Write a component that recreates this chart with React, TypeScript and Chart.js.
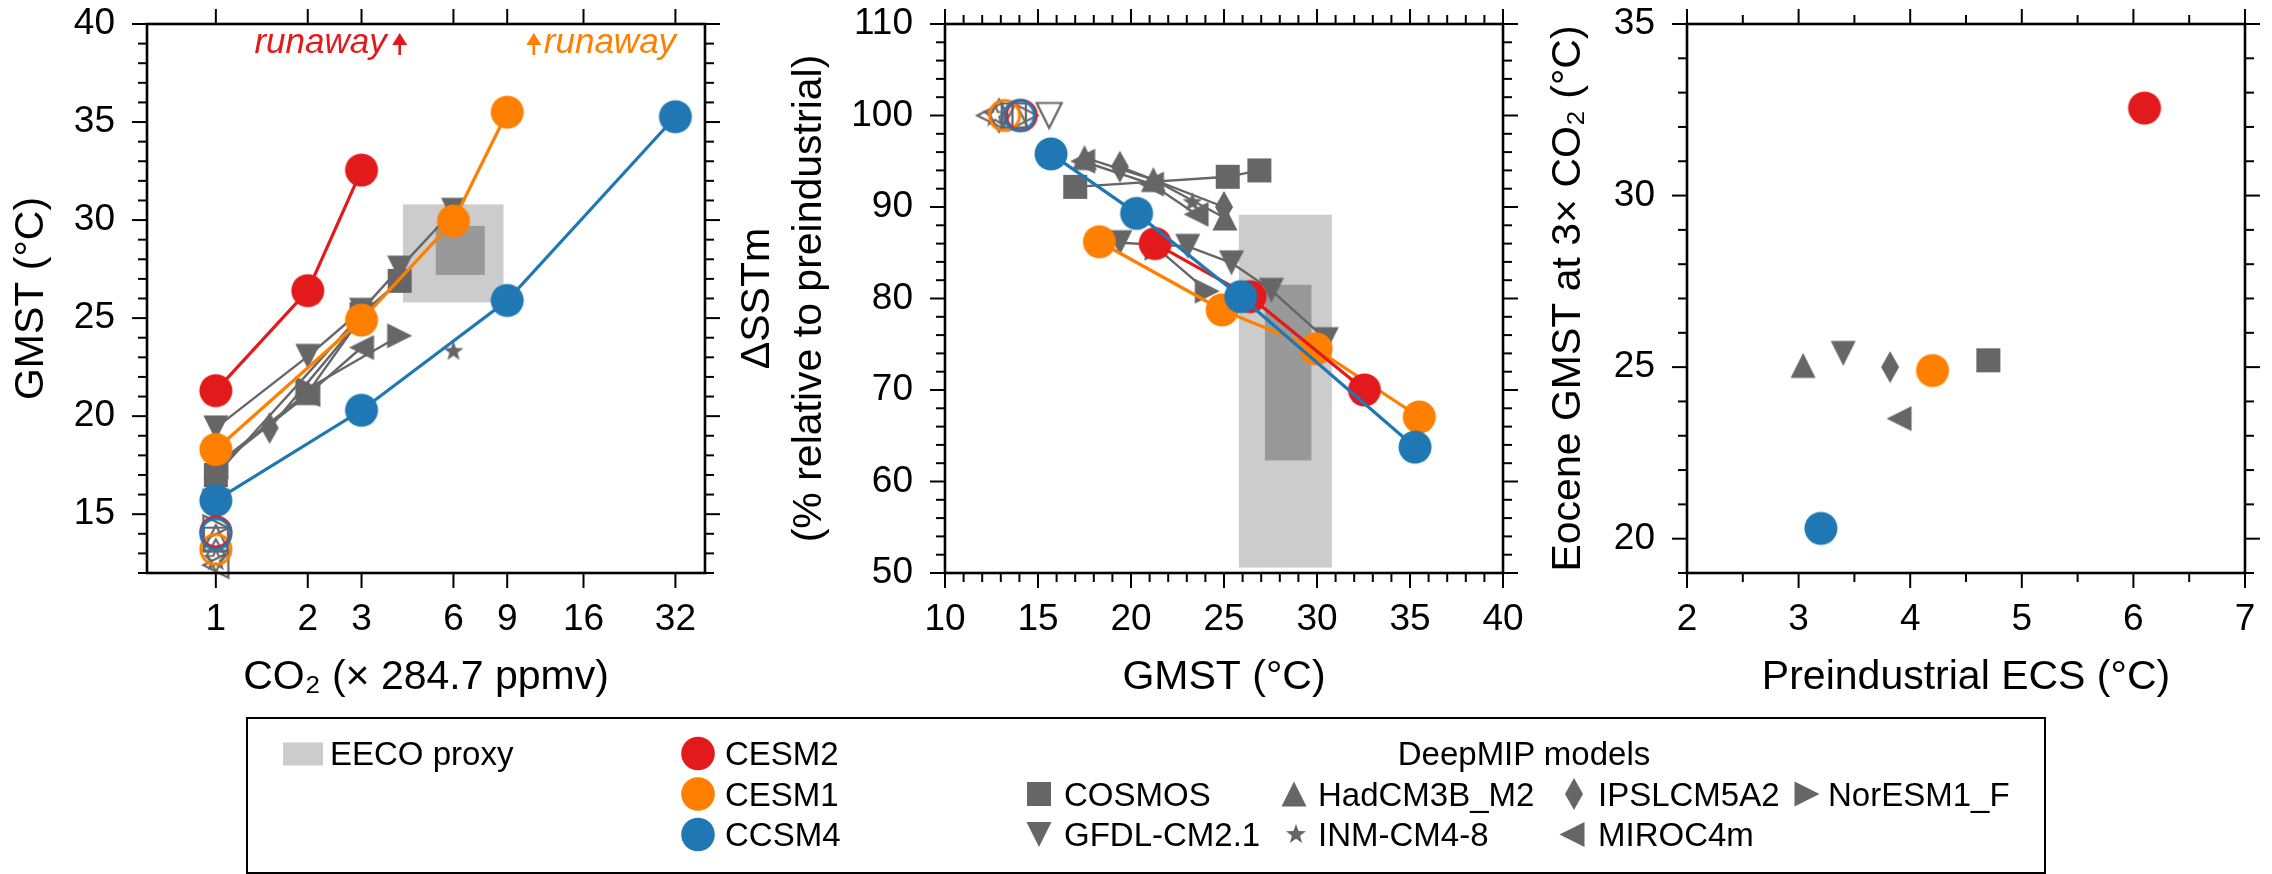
import React, { useEffect, useRef } from 'react';
import { Chart, registerables } from 'chart.js';

Chart.register(...registerables);

const FONT = "'Liberation Sans', Arial, Helvetica, sans-serif";
const RED = '#e31a1c';
const ORANGE = '#ff7f00';
const BLUE = '#1f78b4';
const GRAY = '#666666';
const PROXY_LIGHT = '#cccccc';
const PROXY_DARK = '#999999';

// ---------------- data ----------------
const co2TickLabels = [1, 2, 3, 6, 9, 16, 32];
const co2AxisMin = 0.595;
const co2AxisMax = 40;
const piCO2 = 1;
const piSST = 100;

// CESM family (filled circles), CO2 in multiples of 284.7 ppmv
const cesm2CO2 = [1, 2, 3];
const cesm2GMST = [21.3, 26.4, 32.55];
const cesm2SST = [86.0, 80.2, 70.0];
const cesm2PI = 14.1;
const cesm2ECS = 6.1;

const cesm1CO2 = [1, 3, 6, 9];
const cesm1GMST = [18.3, 24.9, 29.95, 35.5];
const cesm1SST = [86.2, 78.75, 74.5, 67.05];
const cesm1PI = 13.2;
const cesm1ECS = 4.2;

const ccsm4CO2 = [1, 3, 9, 32];
const ccsm4GMST = [15.7, 20.3, 25.9, 35.27];
const ccsm4SST = [95.8, 89.3, 80.2, 63.75];
const ccsm4PI = 14.0;
const ccsm4ECS = 3.2;

// DeepMIP models
const cosmosCO2 = [1, 3, 4];
const cosmosGMST = [17.0, 25.2, 26.9];
const cosmosSST = [92.2, 93.3, 94.0];
const cosmosPI = 13.7;
const cosmosECS = 4.7;

const gfdlCO2 = [1, 2, 3, 4, 6];
const gfdlGMST = [19.4, 23.05, 25.4, 27.55, 30.5];
const gfdlSST = [86.1, 85.7, 83.9, 80.9, 75.5];
const gfdlPI = 15.6;
const gfdlECS = 3.4;

const hadcmCO2 = [1, 2, 3];
const hadcmGMST = [17.5, 21.2, 25.05];
const hadcmSST = [95.4, 93.0, 88.8];
const hadcmPI = 13.8;
const hadcmECS = 3.04;

const ipslCO2 = [1.5, 3];
const ipslGMST = [19.4, 25.0];
const ipslSST = [94.4, 90.0];
const ipslPI = 12.9;
const ipslECS = 3.82;

const inmCO2 = [6];
const inmGMST = [23.3];
const inmSST = [90.5];
const inmPI = 12.7;

const mirocCO2 = [1, 2, 3];
const mirocGMST = [17.4, 21.1, 23.5];
const mirocSST = [95.0, 92.5, 89.2];
const mirocPI = 12.4;
const mirocECS = 3.9;

const noresmCO2 = [2, 4];
const noresmGMST = [21.4, 24.1];
const noresmSST = [85.5, 80.8];
const noresmPI = 14.3;

// EECO proxy ranges
const proxyCO2Outer = [4.1, 8.75];
const proxyCO2Inner = [5.25, 7.6];
const proxyGMSTOuter = [25.8, 30.8];
const proxyGMSTInner = [27.2, 29.7];
const proxySSTOuter = [50.6, 89.15];
const proxySSTInner = [62.3, 81.5];

// runaway annotations (CO2 level)
const runawayCESM2 = 4;
const runawayCESM1 = 11;

// ---------------- markers ----------------
type Shape = 'circle' | 'square' | 'triUp' | 'triDown' | 'triLeft' | 'triRight' | 'diamond' | 'star';

function vertices(shape: Shape): number[][] {
  switch (shape) {
    case 'square':
      return [[-12, -12], [12, -12], [12, 12], [-12, 12]];
    case 'triUp':
      return [[0, -12.5], [12.5, 12.5], [-12.5, 12.5]];
    case 'triDown':
      return [[0, 12.5], [12.5, -12.5], [-12.5, -12.5]];
    case 'triLeft':
      return [[-12.5, 0], [12.5, -12.5], [12.5, 12.5]];
    case 'triRight':
      return [[12.5, 0], [-12.5, -12.5], [-12.5, 12.5]];
    case 'diamond':
      return [[0, -16], [9, 0], [0, 16], [-9, 0]];
    case 'star': {
      const pts: number[][] = [];
      for (let i = 0; i < 10; i++) {
        const r = i % 2 === 0 ? 10.5 : 4.3;
        const a = -Math.PI / 2 + (i * Math.PI) / 5;
        pts.push([r * Math.cos(a), r * Math.sin(a)]);
      }
      return pts;
    }
    default:
      return [];
  }
}

function markerCanvas(shape: Shape, color: string, filled: boolean): HTMLCanvasElement {
  const S = 40;
  const c = document.createElement('canvas');
  c.width = S;
  c.height = S;
  const g = c.getContext('2d')!;
  g.translate(S / 2, S / 2);
  g.beginPath();
  if (shape === 'circle') {
    g.arc(0, 0, filled ? 16.5 : 15, 0, Math.PI * 2);
  } else {
    const v = vertices(shape);
    g.moveTo(v[0][0], v[0][1]);
    for (let i = 1; i < v.length; i++) g.lineTo(v[i][0], v[i][1]);
    g.closePath();
  }
  if (filled) {
    g.fillStyle = color;
    g.fill();
  } else {
    g.strokeStyle = color;
    g.lineWidth = shape === 'circle' ? 3 : 2.2;
    g.stroke();
  }
  return c;
}

type Model = {
  name: string;
  shape: Shape;
  color: string;
  co2: number[];
  gmst: number[];
  sst: number[];
  pi: number;
  ecs: number | null;
};

const grayModels: Model[] = [
  { name: 'COSMOS', shape: 'square', color: GRAY, co2: cosmosCO2, gmst: cosmosGMST, sst: cosmosSST, pi: cosmosPI, ecs: cosmosECS },
  { name: 'GFDL-CM2.1', shape: 'triDown', color: GRAY, co2: gfdlCO2, gmst: gfdlGMST, sst: gfdlSST, pi: gfdlPI, ecs: gfdlECS },
  { name: 'HadCM3B_M2', shape: 'triUp', color: GRAY, co2: hadcmCO2, gmst: hadcmGMST, sst: hadcmSST, pi: hadcmPI, ecs: hadcmECS },
  { name: 'IPSLCM5A2', shape: 'diamond', color: GRAY, co2: ipslCO2, gmst: ipslGMST, sst: ipslSST, pi: ipslPI, ecs: ipslECS },
  { name: 'INM-CM4-8', shape: 'star', color: GRAY, co2: inmCO2, gmst: inmGMST, sst: inmSST, pi: inmPI, ecs: null },
  { name: 'MIROC4m', shape: 'triLeft', color: GRAY, co2: mirocCO2, gmst: mirocGMST, sst: mirocSST, pi: mirocPI, ecs: mirocECS },
  { name: 'NorESM1_F', shape: 'triRight', color: GRAY, co2: noresmCO2, gmst: noresmGMST, sst: noresmSST, pi: noresmPI, ecs: null },
];

// drawn bottom to top: orange, red, blue
const cesmModels: Model[] = [
  { name: 'CESM1', shape: 'circle', color: ORANGE, co2: cesm1CO2, gmst: cesm1GMST, sst: cesm1SST, pi: cesm1PI, ecs: cesm1ECS },
  { name: 'CESM2', shape: 'circle', color: RED, co2: cesm2CO2, gmst: cesm2GMST, sst: cesm2SST, pi: cesm2PI, ecs: cesm2ECS },
  { name: 'CCSM4', shape: 'circle', color: BLUE, co2: ccsm4CO2, gmst: ccsm4GMST, sst: ccsm4SST, pi: ccsm4PI, ecs: ccsm4ECS },
];

function gmstAt3x(m: Model): number | null {
  const i = m.co2.indexOf(3);
  return i >= 0 ? m.gmst[i] : null;
}

// ---------------- chart helpers ----------------
function range(a: number, b: number, step: number): number[] {
  const out: number[] = [];
  for (let i = 0; a + i * step <= b + 1e-9; i++) out.push(+(a + i * step).toFixed(6));
  return out;
}

function lineDataset(xs: number[], ys: number[], color: string, shape: Shape, order: number, width: number) {
  return {
    data: xs.map((x, i) => ({ x, y: ys[i] })),
    showLine: true,
    borderColor: color,
    backgroundColor: color,
    borderWidth: width,
    pointStyle: markerCanvas(shape, color, true),
    pointRadius: 12,
    pointHoverRadius: 12,
    order,
    clip: false,
  };
}

function pointDataset(x: number, y: number, color: string, shape: Shape, filled: boolean, order: number) {
  return {
    data: [{ x, y }],
    showLine: false,
    borderColor: color,
    backgroundColor: color,
    pointStyle: markerCanvas(shape, color, filled),
    pointRadius: 12,
    pointHoverRadius: 12,
    order,
    clip: false,
  };
}

type FrameSpec = { xMajor: number[]; xMinor: number[]; yMajor: number[]; yMinor: number[] };

function framePlugin(spec: FrameSpec) {
  return {
    id: 'frameTicks',
    afterDraw(chart: any) {
      const { ctx, chartArea: a, scales } = chart;
      const x = scales.x;
      const y = scales.y;
      const MAJ = 15;
      const MIN = 9;
      ctx.save();
      ctx.strokeStyle = '#000';
      ctx.lineWidth = 2;
      ctx.lineCap = 'butt';
      const line = (x0: number, y0: number, x1: number, y1: number) => {
        ctx.beginPath();
        ctx.moveTo(x0, y0);
        ctx.lineTo(x1, y1);
        ctx.stroke();
      };
      const xt = (vals: number[], len: number) =>
        vals.forEach((v) => {
          const p = x.getPixelForValue(v);
          line(p, a.bottom, p, a.bottom + len);
          line(p, a.top, p, a.top - len);
        });
      const yt = (vals: number[], len: number) =>
        vals.forEach((v) => {
          const p = y.getPixelForValue(v);
          line(a.left, p, a.left - len, p);
          line(a.right, p, a.right + len, p);
        });
      xt(spec.xMajor, MAJ);
      xt(spec.xMinor, MIN);
      yt(spec.yMajor, MAJ);
      yt(spec.yMinor, MIN);
      ctx.lineWidth = 2.6;
      ctx.strokeRect(a.left, a.top, a.right - a.left, a.bottom - a.top);
      ctx.restore();
    },
  };
}

function proxyPlugin(xo: number[], yo: number[], xi: number[], yi: number[]) {
  return {
    id: 'proxyBoxes',
    beforeDatasetsDraw(chart: any) {
      const { ctx, scales } = chart;
      const x = scales.x;
      const y = scales.y;
      const box = (xr: number[], yr: number[], color: string) => {
        const x0 = x.getPixelForValue(xr[0]);
        const x1 = x.getPixelForValue(xr[1]);
        const y0 = y.getPixelForValue(yr[1]);
        const y1 = y.getPixelForValue(yr[0]);
        ctx.fillStyle = color;
        ctx.fillRect(x0, y0, x1 - x0, y1 - y0);
      };
      ctx.save();
      box(xo, yo, PROXY_LIGHT);
      box(xi, yi, PROXY_DARK);
      ctx.restore();
    },
  };
}

const runawayPlugin = {
  id: 'runaway',
  afterDatasetsDraw(chart: any) {
    const { ctx, chartArea: a, scales } = chart;
    const x = scales.x;
    const drawArrow = (px: number, color: string) => {
      ctx.fillStyle = color;
      ctx.beginPath();
      ctx.moveTo(px, a.top + 9);
      ctx.lineTo(px + 7.5, a.top + 21);
      ctx.lineTo(px - 7.5, a.top + 21);
      ctx.closePath();
      ctx.fill();
      ctx.fillRect(px - 1.3, a.top + 20, 2.6, 11);
    };
    ctx.save();
    ctx.font = `italic 35px ${FONT}`;
    ctx.textBaseline = 'alphabetic';
    const pr = x.getPixelForValue(runawayCESM2);
    drawArrow(pr, RED);
    ctx.fillStyle = RED;
    ctx.textAlign = 'right';
    ctx.fillText('runaway', pr - 13, a.top + 29);
    const po = x.getPixelForValue(runawayCESM1);
    drawArrow(po, ORANGE);
    ctx.fillStyle = ORANGE;
    ctx.textAlign = 'left';
    ctx.fillText('runaway', po + 10, a.top + 29);
    ctx.restore();
  },
};

const TICK_FONT = { family: FONT, size: 37 };
const TITLE_FONT = { family: FONT, size: 41, lineHeight: 1.2 };

function axis(extra: any) {
  return {
    grid: { display: false, drawTicks: false, tickLength: 0 },
    border: { display: false },
    ...extra,
  };
}

function xAxis(type: string, min: number, max: number, ticks: number[], title: string, height: number) {
  return axis({
    type,
    position: 'bottom',
    min,
    max,
    afterBuildTicks: (s: any) => {
      s.ticks = ticks.map((v) => ({ value: v }));
    },
    afterFit: (s: any) => {
      s.height = height;
      s.paddingLeft = 0;
      s.paddingRight = 0;
    },
    ticks: {
      autoSkip: false,
      maxRotation: 0,
      minRotation: 0,
      padding: 25,
      color: '#000',
      font: TICK_FONT,
      callback: (v: any) => String(v),
    },
    title: { display: true, text: title, color: '#000', font: TITLE_FONT, padding: { top: 0, bottom: 8 } },
  });
}

function yAxis(min: number, max: number, ticks: number[], title: string | string[], width: number, padTop: number, lineHeight = 1.2) {
  return axis({
    type: 'linear',
    position: 'left',
    min,
    max,
    afterBuildTicks: (s: any) => {
      s.ticks = ticks.map((v) => ({ value: v }));
    },
    afterFit: (s: any) => {
      s.width = width;
      s.paddingTop = 0;
      s.paddingBottom = 0;
    },
    ticks: {
      autoSkip: false,
      padding: 32,
      color: '#000',
      font: TICK_FONT,
      callback: (v: any) => String(v),
    },
    title: {
      display: true,
      text: title,
      color: '#000',
      font: { ...TITLE_FONT, lineHeight },
      padding: { top: padTop, bottom: 0 },
    },
  });
}

function baseConfig(datasets: any[], scales: any, padding: any, plugins: any[]) {
  return {
    type: 'scatter',
    data: { datasets },
    options: {
      responsive: false,
      animation: false,
      events: [],
      devicePixelRatio: 1,
      layout: { padding },
      plugins: { legend: { display: false }, tooltip: { enabled: false } },
      scales,
    },
    plugins,
  };
}

// ---------------- panel configs ----------------
const gmstTicks1 = [15, 20, 25, 30, 35, 40];

function panel1Config() {
  const ds: any[] = [];
  grayModels.forEach((m) => {
    ds.push(lineDataset(m.co2, m.gmst, GRAY, m.shape, 20, 2.4));
    ds.push(pointDataset(piCO2, m.pi, GRAY, m.shape, false, 15));
  });
  cesmModels.forEach((m, i) => {
    ds.push(lineDataset(m.co2, m.gmst, m.color, 'circle', 8 - i, 3.2));
    ds.push(pointDataset(piCO2, m.pi, m.color, 'circle', false, 3 - i));
  });
  return baseConfig(
    ds,
    {
      x: xAxis('logarithmic', co2AxisMin, co2AxisMax, co2TickLabels, 'CO₂ (× 284.7 ppmv)', 137),
      y: yAxis(12, 40, gmstTicks1, 'GMST (°C)', 147, 7.4),
    },
    { top: 24, right: 35, left: 0, bottom: 0 },
    [
      proxyPlugin(proxyCO2Outer, proxyGMSTOuter, proxyCO2Inner, proxyGMSTInner),
      runawayPlugin,
      framePlugin({ xMajor: co2TickLabels, xMinor: [], yMajor: gmstTicks1, yMinor: range(12, 39, 1).filter((v) => v % 5 !== 0) }),
    ]
  );
}

const gmstTicks2 = [10, 15, 20, 25, 30, 35, 40];
const sstTicks = [50, 60, 70, 80, 90, 100, 110];

function panel2Config() {
  const ds: any[] = [];
  grayModels.forEach((m) => {
    ds.push(lineDataset(m.gmst, m.sst, GRAY, m.shape, 20, 2.4));
    ds.push(pointDataset(m.pi, piSST, GRAY, m.shape, false, 15));
  });
  cesmModels.forEach((m, i) => {
    ds.push(lineDataset(m.gmst, m.sst, m.color, 'circle', 8 - i, 3.2));
    ds.push(pointDataset(m.pi, piSST, m.color, 'circle', false, 3 - i));
  });
  return baseConfig(
    ds,
    {
      x: xAxis('linear', 10, 40, gmstTicks2, 'GMST (°C)', 137),
      y: yAxis(50, 110, sstTicks, ['ΔSSTm', '(% relative to preindustrial)'], 225, 12.4, 1.25),
    },
    { top: 24, right: 37, left: 0, bottom: 0 },
    [
      proxyPlugin(proxyGMSTOuter, proxySSTOuter, proxyGMSTInner, proxySSTInner),
      framePlugin({
        xMajor: gmstTicks2,
        xMinor: range(10, 40, 1).filter((v) => v % 5 !== 0),
        yMajor: sstTicks,
        yMinor: range(50, 110, 2).filter((v) => v % 10 !== 0),
      }),
    ]
  );
}

const ecsTicks = [2, 3, 4, 5, 6, 7];
const gmst3Ticks = [20, 25, 30, 35];

function panel3Config() {
  const ds: any[] = [];
  grayModels.forEach((m) => {
    const g = gmstAt3x(m);
    if (m.ecs !== null && g !== null) ds.push(pointDataset(m.ecs, g, GRAY, m.shape, true, 20));
  });
  cesmModels.forEach((m, i) => {
    const g = gmstAt3x(m);
    if (m.ecs !== null && g !== null) ds.push(pointDataset(m.ecs, g, m.color, 'circle', true, 8 - i));
  });
  return baseConfig(
    ds,
    {
      x: xAxis('linear', 2, 7, ecsTicks, 'Preindustrial ECS (°C)', 137),
      y: yAxis(19, 35, gmst3Ticks, 'Eocene GMST at 3× CO₂ (°C)', 157, 14.4),
    },
    { top: 24, right: 27, left: 0, bottom: 0 },
    [
      framePlugin({
        xMajor: ecsTicks,
        xMinor: range(2.5, 6.5, 1),
        yMajor: gmst3Ticks,
        yMinor: range(19, 34, 1).filter((v) => v % 5 !== 0),
      }),
    ]
  );
}

// ---------------- components ----------------
function ChartCanvas(props: { left: number; top: number; width: number; height: number; build: () => any }) {
  const ref = useRef<HTMLCanvasElement>(null);
  useEffect(() => {
    const chart = new Chart(ref.current as HTMLCanvasElement, props.build());
    return () => chart.destroy();
  }, []);
  return (
    <canvas
      ref={ref}
      width={props.width}
      height={props.height}
      style={{ position: 'absolute', left: props.left, top: props.top, width: props.width, height: props.height }}
    />
  );
}

function SvgMarker(props: { shape: Shape; cx: number; cy: number; color: string }) {
  if (props.shape === 'circle') return <circle cx={props.cx} cy={props.cy} r={16.8} fill={props.color} />;
  const pts = vertices(props.shape)
    .map((p) => `${props.cx + p[0]},${props.cy + p[1]}`)
    .join(' ');
  return <polygon points={pts} fill={props.color} />;
}

function Legend() {
  const fs = 33;
  const row1 = 765;
  const row2 = 805.5;
  const row3 = 846;
  const mk = (b: number) => b - 11.5;
  const txt = (x: number, y: number, s: string, anchor = 'start') => (
    <text x={x} y={y} fontFamily={FONT} fontSize={fs} fill="#000" textAnchor={anchor}>
      {s}
    </text>
  );
  return (
    <svg width={2272} height={874} style={{ position: 'absolute', left: 0, top: 0 }}>
      <rect x={247} y={718} width={1798} height={155} fill="none" stroke="#000" strokeWidth={2} />
      <rect x={283} y={742.5} width={40} height={23} fill={PROXY_LIGHT} />
      {txt(330, row1, 'EECO proxy')}
      <SvgMarker shape="circle" cx={698} cy={mk(row1)} color={RED} />
      <SvgMarker shape="circle" cx={698} cy={mk(row2)} color={ORANGE} />
      <SvgMarker shape="circle" cx={698} cy={mk(row3)} color={BLUE} />
      {txt(725, row1, 'CESM2')}
      {txt(725, row2, 'CESM1')}
      {txt(725, row3, 'CCSM4')}
      {txt(1524, row1, 'DeepMIP models', 'middle')}
      <SvgMarker shape="square" cx={1039} cy={mk(row2)} color={GRAY} />
      {txt(1064, row2, 'COSMOS')}
      <SvgMarker shape="triUp" cx={1294} cy={mk(row2)} color={GRAY} />
      {txt(1318, row2, 'HadCM3B_M2')}
      <SvgMarker shape="diamond" cx={1574} cy={mk(row2)} color={GRAY} />
      {txt(1598, row2, 'IPSLCM5A2')}
      <SvgMarker shape="triRight" cx={1807} cy={mk(row2)} color={GRAY} />
      {txt(1828, row2, 'NorESM1_F')}
      <SvgMarker shape="triDown" cx={1039} cy={mk(row3)} color={GRAY} />
      {txt(1064, row3, 'GFDL-CM2.1')}
      <SvgMarker shape="star" cx={1296} cy={mk(row3)} color={GRAY} />
      {txt(1318, row3, 'INM-CM4-8')}
      <SvgMarker shape="triLeft" cx={1572} cy={mk(row3)} color={GRAY} />
      {txt(1598, row3, 'MIROC4m')}
    </svg>
  );
}

export default function App() {
  return (
    <div style={{ position: 'absolute', left: 0, top: 0, width: 2272, height: 874, background: '#fff', overflow: 'hidden' }}>
      <ChartCanvas left={0} top={0} width={740} height={710} build={panel1Config} />
      <ChartCanvas left={720} top={0} width={820} height={710} build={panel2Config} />
      <ChartCanvas left={1530} top={0} width={742} height={710} build={panel3Config} />
      <Legend />
    </div>
  );
}
